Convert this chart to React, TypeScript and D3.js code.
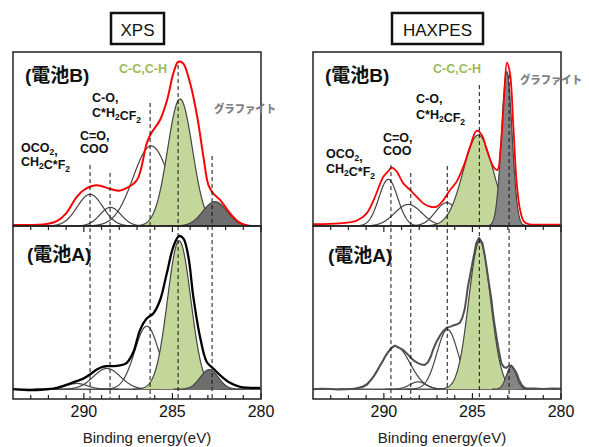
import { useEffect, useRef } from "react";
import * as d3 from "d3";

// x range of every panel, in eV (reversed axis)
const eVDomain = [294, 280];
const majorTicks = [290, 285, 280];
const minorTicks = [293, 292, 291, 289, 288, 287, 286, 284, 283, 282, 281];

// dashed reference positions (eV) and where they start in the upper panel (a.u.)
const xpsMarks = [289.65, 288.52, 286.26, 284.68, 282.76];
const xpsMarkTops = [35, 30.5, 70.7, 92.5, 40.2];
const haxMarks = [289.6, 288.48, 286.42, 284.61, 282.93];
const haxMarkTops = [35, 30.5, 34.5, 81, 86.8];

// fitted components: OCO2, C=O, C-O, C-C, graphite
const xpsB_center = [289.65, 288.5, 286.2, 284.57, 282.6];
const xpsB_height = [18.2, 10.7, 46, 73, 14];
const xpsB_fwhm = [1.7, 1.4, 2.4, 1.65, 1.6];

const xpsA_center = [290.4, 288.7, 286.45, 284.62, 282.92];
const xpsA_height = [3.5, 12.7, 38.6, 90.9, 12.0];
const xpsA_fwhm = [1.4, 1.8, 1.6, 1.55, 1.2];

const haxB_center = [289.75, 288.62, 286.45, 284.67, 283.06];
const haxB_height = [26.8, 12.4, 13.4, 52.3, 88.7];
const haxB_fwhm = [1.25, 1.8, 1.5, 2.0, 0.7];

const haxA_center = [289.33, 288.07, 286.41, 284.59, 282.8];
const haxA_height = [26.3, 4.5, 36.6, 90.7, 14.1];
const haxA_fwhm = [1.9, 1.1, 1.4, 1.45, 0.65];

// measured spectra [eV, intensity]
const xpsB_data: [number, number][] = [
  [294.0, 0.6], [292.1, 1.1], [291.5, 3], [291.0, 7.3], [290.4, 16.8], [290.0, 20.7],
  [289.3, 23.4], [288.5, 21.3], [288.0, 20.3], [287.6, 21.7], [287.0, 26.4], [286.45, 47.5],
  [286.2, 53.3], [285.7, 60.9], [285.3, 72.4], [284.95, 87.7], [284.67, 94.4], [284.4, 93.5],
  [284.0, 82], [283.6, 62.8], [283.25, 39.8], [282.97, 23.6], [282.7, 18.8], [282.3, 14.9],
  [281.75, 7.3], [281.2, 1.9], [280.7, 0.2], [280.0, 0],
];

const xpsA_data: [number, number][] = [
  [294.0, 0.0], [293.0, -0.6], [292.3, -0.3], [291.6, 0.6], [291.35, 1.4], [290.78, 3.5],
  [290.4, 5.0], [290.03, 6.5], [289.6, 9.5], [289.27, 12.0], [288.9, 13.8], [288.71, 14.1],
  [288.14, 14.3], [287.8, 15.0], [287.58, 16.1], [287.2, 22.9], [286.83, 36.2], [286.45, 43.3],
  [286.08, 46.4], [285.7, 54.5], [285.32, 70.9], [284.95, 87.2], [284.63, 93.8], [284.38, 92.3],
  [284.1, 81.1], [283.82, 56.6], [283.44, 32.0], [283.06, 16.7], [282.69, 12.7], [282.31, 8.6],
  [281.75, 3.9], [281.18, 1.4], [280.05, 0.8],
];

const haxB_data: [number, number][] = [
  [294.0, 1.1], [292.5, 1.5], [291.53, 3.1], [290.97, 7.3], [290.5, 16.8], [290.03, 28.3],
  [289.75, 31.5], [289.56, 33.5], [289.27, 31.2], [288.9, 24.5], [288.52, 20.7], [288.14, 16.8],
  [287.77, 13.0], [287.39, 11.1], [287.02, 11.1], [286.64, 14.9], [286.26, 20.7], [285.89, 25.5],
  [285.51, 34.1], [285.13, 45.6], [284.76, 54.8], [284.47, 52.3], [284.19, 43.7], [283.82, 34.1],
  [283.59, 32.2], [283.4, 45.6], [283.21, 74.3], [283.05, 93.9], [282.88, 87.7], [282.69, 57.1],
  [282.5, 24.5], [282.31, 9.2], [282.09, 2.5], [281.84, 1.1], [281.0, 0.8], [280.0, 0.8],
];

const haxA_data: [number, number][] = [
  [294.0, -0.1], [293.5, 0.3], [293.0, 0.2], [292.6, -0.2], [292.1, -0.1], [291.6, 0.4],
  [291.18, 1.4], [290.95, 2.8], [290.71, 5.9], [290.5, 9.0], [290.24, 14.1], [290.05, 17.5],
  [289.86, 21.2], [289.6, 25.0], [289.39, 26.7], [289.2, 25.6], [289.01, 24.7], [288.82, 23.2],
  [288.64, 21.2], [288.45, 19.0], [288.26, 17.2], [288.07, 16.0], [287.88, 15.1], [287.7, 14.8],
  [287.51, 16.5], [287.35, 20.0], [287.22, 24.3], [287.05, 28.6], [286.85, 32.5], [286.66, 35.5],
  [286.47, 37.6], [286.28, 38.2], [286.1, 39.0], [285.9, 39.6], [285.72, 40.6], [285.58, 43.5],
  [285.44, 48.8], [285.35, 55], [285.25, 63.1], [285.12, 70.5], [285.0, 77.4], [284.88, 84],
  [284.78, 89.6], [284.63, 92.7], [284.44, 89.6], [284.32, 83], [284.21, 75.4], [284.07, 65],
  [283.93, 55.0], [283.8, 43], [283.65, 32.5], [283.5, 23], [283.37, 16.1], [283.22, 13.5],
  [283.08, 13.1], [282.95, 14.2], [282.8, 14.5], [282.66, 12.5], [282.52, 10.0], [282.38, 6],
  [282.24, 2.9], [282.1, 1.2], [281.95, 0.4], [281.5, 0.5], [281.0, 0.2], [280.5, 0.4], [279.95, 0.3],
];

const FONT = "'Liberation Sans', Arial, 'Noto Sans CJK JP', sans-serif";
const JP_FONT = "'Noto Sans CJK JP', sans-serif";

type Sub = {
  centers: number[];
  heights: number[];
  fwhm: number[];
  data: [number, number][];
  color: string;
  width: number;
  graphiteFill: string;
};

export default function App() {
  const svgRef = useRef<SVGSVGElement>(null);

  useEffect(() => {
    if (!svgRef.current) return;
    const svg = d3.select(svgRef.current);
    svg.selectAll("*").remove();

    const panels = [
      {
        x0: 13, x1: 261, title: "XPS", box: [111, 53], marks: xpsMarks, markTops: xpsMarkTops,
        top: { centers: xpsB_center, heights: xpsB_height, fwhm: xpsB_fwhm, data: xpsB_data, color: "#ff0000", width: 2, graphiteFill: "#6e6e6e" },
        low: { centers: xpsA_center, heights: xpsA_height, fwhm: xpsA_fwhm, data: xpsA_data, color: "#000", width: 2.3, graphiteFill: "#6e6e6e" },
        labels: [
          { x: 21, y: 151.5, parts: [["OCO", 0], ["2", 1], [",", 0]] },
          { x: 21, y: 166, parts: [["CH", 0], ["2", 1], ["C*F", 0], ["2", 1]] },
          { x: 80, y: 139.5, parts: [["C=O,", 0]] },
          { x: 80, y: 153, parts: [["COO", 0]] },
          { x: 92, y: 101.5, parts: [["C-O,", 0]] },
          { x: 92, y: 116.5, parts: [["C*H", 0], ["2", 1], ["CF", 0], ["2", 1]] },
        ],
        cc: [119, 73], gr: [214, 113], labB: [25, 82], labA: [27, 261], axisX: 147,
      },
      {
        x0: 313, x1: 561, title: "HAXPES", box: [392, 91], marks: haxMarks, markTops: haxMarkTops,
        top: { centers: haxB_center, heights: haxB_height, fwhm: haxB_fwhm, data: haxB_data, color: "#ff0000", width: 1.8, graphiteFill: "#858585" },
        low: { centers: haxA_center, heights: haxA_height, fwhm: haxA_fwhm, data: haxA_data, color: "#505050", width: 2, graphiteFill: "#858585" },
        labels: [
          { x: 326, y: 158, parts: [["OCO", 0], ["2", 1], [",", 0]] },
          { x: 326, y: 173, parts: [["CH", 0], ["2", 1], ["C*F", 0], ["2", 1]] },
          { x: 383, y: 141.5, parts: [["C=O,", 0]] },
          { x: 383, y: 155, parts: [["COO", 0]] },
          { x: 416, y: 103, parts: [["C-O,", 0]] },
          { x: 416, y: 119, parts: [["C*H", 0], ["2", 1], ["CF", 0], ["2", 1]] },
        ],
        cc: [433, 73], gr: [520, 84], labB: [325, 82], labA: [328, 262], axisX: 442,
      },
    ];

    panels.forEach((p, pi) => {
      const x = d3.scaleLinear().domain(eVDomain).range([p.x0, p.x1]);
      const yTop = d3.scaleLinear().domain([0, 100]).range([226, 52]);
      const yLow = d3.scaleLinear().domain([-6, 100]).range([399, 226]);

      const drawSub = (sub: Sub, y: d3.ScaleLinear<number, number>, y0: number, y1: number, id: string, isLow: boolean) => {
        svg.append("clipPath").attr("id", id)
          .append("rect").attr("x", p.x0).attr("y", y0).attr("width", p.x1 - p.x0).attr("height", y1 - y0);
        const g = svg.append("g").attr("clip-path", `url(#${id})`);

        if (isLow) {
          g.append("line").attr("x1", p.x0).attr("x2", p.x1)
            .attr("y1", y(0)).attr("y2", y(0))
            .attr("stroke", "#555").attr("stroke-width", 1.5);
        }

        sub.centers.forEach((c, i) => {
          const s = sub.fwhm[i] / 2.3548;
          const pts = d3.range(c - 4 * s, c + 4 * s, 0.02).map((e) => [e, sub.heights[i] * Math.exp(-((e - c) ** 2) / (2 * s * s))] as [number, number]);
          if (i === 3 || i === 4) {
            const area = d3.area<[number, number]>().x((d) => x(d[0])).y0(y(0)).y1((d) => y(d[1]));
            g.append("path").datum(pts).attr("d", area)
              .attr("fill", i === 3 ? "#c4d79b" : sub.graphiteFill);
          }
          const line = d3.line<[number, number]>().x((d) => x(d[0])).y((d) => y(d[1]));
          g.append("path").datum(pts).attr("d", line)
            .attr("fill", "none").attr("stroke", "#454545").attr("stroke-width", 1.2);
        });

        const env = d3.line<[number, number]>().x((d) => x(d[0])).y((d) => y(d[1]))
          .curve(pi === 1 && isLow ? d3.curveLinear : d3.curveCatmullRom.alpha(0.5));
        g.append("path").datum(sub.data).attr("d", env)
          .attr("fill", "none").attr("stroke", sub.color).attr("stroke-width", sub.width)
          .attr("stroke-linejoin", "round");
      };

      drawSub(p.top, yTop, 52, 226, `clipT${pi}`, false);
      drawSub(p.low, yLow, 226, 399, `clipL${pi}`, true);

      // dashed reference lines
      p.marks.forEach((m, i) => {
        svg.append("line").attr("x1", x(m)).attr("x2", x(m))
          .attr("y1", yTop(p.markTops[i])).attr("y2", 398)
          .attr("stroke", "#111").attr("stroke-width", 1).attr("stroke-dasharray", "4,3");
      });

      // frames
      [[52, 226], [226, 399]].forEach(([a, b]) => {
        svg.append("rect").attr("x", p.x0).attr("y", a).attr("width", p.x1 - p.x0).attr("height", b - a)
          .attr("fill", "none").attr("stroke", "#222").attr("stroke-width", 1.5);
      });

      // ticks
      const ticks = [...majorTicks.map((t) => [t, 6]), ...minorTicks.map((t) => [t, 4])];
      ticks.forEach(([t, len]) => {
        svg.append("line").attr("x1", x(t)).attr("x2", x(t)).attr("y1", 226).attr("y2", 226 + len)
          .attr("stroke", "#222").attr("stroke-width", 1.2);
        svg.append("line").attr("x1", x(t)).attr("x2", x(t)).attr("y1", 399).attr("y2", 399 - len)
          .attr("stroke", "#222").attr("stroke-width", 1.2);
      });
      majorTicks.forEach((t) => {
        svg.append("text").attr("x", x(t)).attr("y", 417).attr("text-anchor", "middle")
          .attr("font-family", FONT).attr("font-size", 16).attr("fill", "#111").text(t);
      });
      svg.append("text").attr("x", p.axisX).attr("y", 443).attr("text-anchor", "middle")
        .attr("font-family", FONT).attr("font-size", 15).attr("fill", "#222").text("Binding energy(eV)");

      // title box
      svg.append("rect").attr("x", p.box[0]).attr("y", 13).attr("width", p.box[1]).attr("height", 31)
        .attr("fill", "#fff").attr("stroke", "#111").attr("stroke-width", 2.5);
      svg.append("text").attr("x", p.box[0] + p.box[1] / 2).attr("y", 35.5).attr("text-anchor", "middle")
        .attr("font-family", FONT).attr("font-size", 17).attr("fill", "#111").text(p.title);

      // battery labels
      svg.append("text").attr("x", p.labB[0]).attr("y", p.labB[1]).attr("font-family", FONT)
        .attr("font-weight", "bold").attr("font-size", 19).attr("fill", "#111").text("(電池B)");
      svg.append("text").attr("x", p.labA[0]).attr("y", p.labA[1]).attr("font-family", FONT)
        .attr("font-weight", "bold").attr("font-size", 19).attr("fill", "#111").text("(電池A)");

      // peak labels
      p.labels.forEach((l) => {
        const t = svg.append("text").attr("x", l.x).attr("y", l.y).attr("font-family", FONT)
          .attr("font-weight", "bold").attr("font-size", 12.5).attr("fill", "#111");
        l.parts.forEach(([s, sub]) => {
          t.append("tspan").attr("font-size", sub ? 8.5 : 12.5).attr("dy", sub ? 3 : 0)
            .text(s as string);
          if (sub) t.append("tspan").attr("dy", -3).text("");
        });
      });
      svg.append("text").attr("x", p.cc[0]).attr("y", p.cc[1]).attr("font-family", FONT)
        .attr("font-weight", "bold").attr("font-size", 12.5).attr("fill", "#9bbb59").text("C-C,C-H");
      svg.append("text").attr("x", p.gr[0]).attr("y", p.gr[1]).attr("font-family", JP_FONT)
        .attr("font-weight", 900).attr("font-size", 11).attr("textLength", 62)
        .attr("lengthAdjust", "spacingAndGlyphs")
        .attr("fill", "#7f7f7f").text("グラファイト");
    });
  }, []);

  return (
    <svg
      ref={svgRef}
      width={589}
      height={447}
      style={{ position: "absolute", left: 0, top: 0, background: "#fff" }}
    />
  );
}
